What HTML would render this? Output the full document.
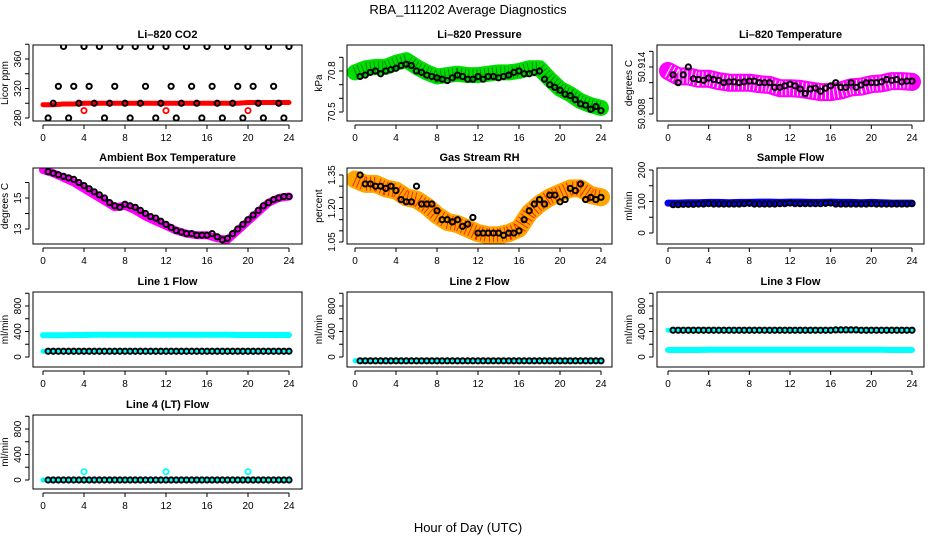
<!DOCTYPE html>
<html><head><meta charset="utf-8"><style>
body{margin:0;background:#fff;}
svg text{font-family:"Liberation Sans",sans-serif;fill:#000;}
</style></head><body>
<svg id="chart" width="936" height="540" viewBox="0 0 936 540" xmlns="http://www.w3.org/2000/svg">
<text x="468" y="14" font-size="13" text-anchor="middle">RBA_111202  Average Diagnostics</text>
<text x="468" y="532" font-size="13" text-anchor="middle">Hour of Day (UTC)</text>
</svg>
<script>
// Hours
const bgHours = [0,1,2,3,4,5,6,7,8,9,10,11,12,13,14,15,16,17,18,19,20,21,22,23,24];
const ptHours = [0.5,1,1.5,2,2.5,3,3.5,4,4.5,5,5.5,6,6.5,7,7.5,8,8.5,9,9.5,10,10.5,11,11.5,12,12.5,13,13.5,14,14.5,15,15.5,16,16.5,17,17.5,18,18.5,19,19.5,20,20.5,21,21.5,22,22.5,23,23.5,24];
const xTicks = [0,4,8,12,16,20,24];

// CO2
const co2Bg = [298,298,299,299,300,300,300,300,300,300,300,300,300,300,300,300,300,300,300,300,301,301,301,301,301];
const co2Pts = [280,300,323,377,280,323,300,377,323,300,377,280,300,323,377,300,280,377,300,323,377,280,300,377,323,280,300,377,323,300,280,377,323,300,280,377,300,323,280,377,323,300,280,377,323,300,280,377];
const co2Red = [290,290,290];
const co2RedHours = [4,12,20];
// Pressure
const presBg = [70.79,70.82,70.83,70.83,70.86,70.88,70.83,70.79,70.76,70.77,70.78,70.77,70.77,70.78,70.79,70.79,70.80,70.82,70.82,70.74,70.67,70.63,70.58,70.55,70.53];
const presPts = [70.76,70.77,70.79,70.80,70.78,70.80,70.81,70.82,70.84,70.85,70.84,70.80,70.79,70.77,70.76,70.75,70.74,70.73,70.75,70.77,70.76,70.74,70.74,70.76,70.74,70.76,70.76,70.75,70.76,70.77,70.79,70.80,70.78,70.78,70.79,70.80,70.74,70.70,70.68,70.66,70.63,70.62,70.59,70.56,70.55,70.52,70.54,70.51];
// Li-820 temperature
const tempBg = [50.9135,50.9128,50.9128,50.9125,50.9125,50.9122,50.9120,50.9120,50.9120,50.9118,50.9117,50.9113,50.9113,50.9112,50.9110,50.9108,50.9108,50.9110,50.9114,50.9115,50.9118,50.9119,50.9122,50.9122,50.9121];
const tempPts = [50.9130,50.9120,50.9130,50.9140,50.9125,50.9124,50.9123,50.9126,50.9124,50.9123,50.9120,50.9121,50.9121,50.9120,50.9121,50.9122,50.9122,50.9120,50.9120,50.9120,50.9114,50.9114,50.9116,50.9118,50.9116,50.9112,50.9106,50.9112,50.9113,50.9109,50.9113,50.9116,50.9120,50.9114,50.9114,50.9120,50.9114,50.9117,50.9120,50.9120,50.9120,50.9121,50.9124,50.9123,50.9124,50.9121,50.9122,50.9122];
// Ambient box temperature
const ambBg = [16.8,16.6,16.3,16.0,15.6,15.2,14.8,14.4,14.5,14.2,13.8,13.5,13.2,12.9,12.7,12.6,12.6,12.4,12.3,12.9,13.5,14.1,14.7,15.0,15.1];
const ambPts = [16.7,16.6,16.5,16.4,16.3,16.2,16.0,15.8,15.6,15.4,15.2,15.0,14.7,14.5,14.4,14.6,14.5,14.4,14.2,14.0,13.8,13.7,13.5,13.3,13.1,12.9,12.8,12.7,12.7,12.6,12.6,12.6,12.7,12.5,12.3,12.4,12.7,13.0,13.3,13.6,13.9,14.2,14.5,14.7,14.9,15.0,15.1,15.1];
// Gas stream RH
const rhBg = [1.33,1.31,1.31,1.29,1.28,1.25,1.24,1.21,1.17,1.14,1.13,1.11,1.09,1.08,1.08,1.09,1.11,1.18,1.22,1.25,1.27,1.29,1.29,1.26,1.25];
const rhPts = [1.35,1.31,1.31,1.30,1.30,1.29,1.30,1.28,1.24,1.23,1.23,1.30,1.22,1.22,1.22,1.19,1.15,1.15,1.14,1.15,1.12,1.13,1.16,1.09,1.09,1.09,1.09,1.09,1.08,1.09,1.09,1.10,1.15,1.19,1.22,1.24,1.22,1.26,1.26,1.23,1.24,1.29,1.28,1.31,1.24,1.25,1.24,1.25];
// Sample flow
const sfBg = [95,95,96,96,97,97,96,97,97,98,98,97,98,98,97,97,98,97,97,96,97,96,95,95,95];
const sfPts = [90,90,91,91,91,92,92,93,92,92,92,92,92,92,93,94,92,92,92,92,92,93,93,95,93,93,93,93,93,93,94,95,92,92,92,92,92,92,92,93,92,92,92,92,92,92,92,93];
// Line flows
const l1Bg = [340,340,340,345,345,350,350,350,350,350,350,350,350,350,350,350,350,350,350,345,345,345,345,345,345];
const l1Low = [90,90,90,90,90,90,90,90,90,90,90,90,90,90,90,90,90,90,90,90,90,90,90,90,90];
const l1Pts = [90,90,90,90,90,90,90,90,90,90,90,90,90,90,90,90,90,90,90,90,90,90,90,90,90,90,90,90,90,90,90,90,90,90,90,90,90,90,90,90,90,90,90,90,90,90,90,90];
const l2Bg = [-60,-60,-60,-60,-60,-60,-60,-60,-60,-60,-60,-60,-60,-60,-60,-60,-60,-60,-60,-60,-60,-60,-60,-60,-60];
const l2Pts = [-60,-60,-60,-60,-60,-60,-60,-60,-60,-60,-60,-60,-60,-60,-60,-60,-60,-60,-60,-60,-60,-60,-60,-60,-60,-60,-60,-60,-60,-60,-60,-60,-60,-60,-60,-60,-60,-60,-60,-60,-60,-60,-60,-60,-60,-60,-60,-60];
const l3Bg = [420,420,420,420,420,420,420,420,420,420,420,420,420,420,420,420,425,430,425,420,420,420,420,420,420];
const l3Low = [110,110,110,110,115,115,115,115,115,115,115,115,115,115,115,115,115,115,115,115,115,115,110,110,110];
const l3Pts = [420,420,420,420,420,420,420,420,420,420,420,420,420,420,420,420,420,420,420,420,420,420,420,420,420,420,420,420,420,420,420,420,425,425,425,425,425,420,420,420,420,420,420,420,420,420,420,420];
const l4Bg = [0,0,0,0,0,0,0,0,0,0,0,0,0,0,0,0,0,0,0,0,0,0,0,0,0];
const l4Pts = [0,0,0,0,0,0,0,0,0,0,0,0,0,0,0,0,0,0,0,0,0,0,0,0,0,0,0,0,0,0,0,0,0,0,0,0,0,0,0,0,0,0,0,0,0,0,0,0];
const l4Out = [130,130,130];
const l4OutHours = [4,12,20];

const flowTicks = [0,200,400,600,800,1000];
const flowLabels = [0,400,800];

const svg = document.getElementById('chart');
const NS = 'http://www.w3.org/2000/svg';
function mk(tag, attrs, parent){
  const e = document.createElementNS(NS, tag);
  for (const k in attrs) e.setAttribute(k, attrs[k]);
  (parent||svg).appendChild(e);
  return e;
}
const cols = [{l:33,r:302,x0:43,x24:289},{l:347,r:612,x0:355,x24:601},{l:657,r:924,x0:668,x24:912}];
const rows = [{t:45,b:121},{t:168,b:244},{t:292,b:367},{t:415,b:489}];

function panel(cfg){
  const c = cols[cfg.col], r = rows[cfg.row];
  const g = mk('g', {});
  
  
  const xs = h => c.x0 + (h/24)*(c.x24-c.x0);
  const ys = v => cfg.yA + (v-cfg.vA)*(cfg.yB-cfg.yA)/(cfg.vB-cfg.vA);
  const clip = 'clip-'+cfg.name;
  const cp = mk('clipPath', {id:clip}, g);
  mk('rect', {x:c.l, y:r.t, width:c.r-c.l, height:r.b-r.t}, cp);
  const plot = mk('g', {'clip-path':'url(#'+clip+')'}, g);
  (cfg.bands||[]).forEach(b=>{
    const pts = bgHours.map((h,i)=>xs(h).toFixed(1)+','+ys(b.vals[i]).toFixed(1)).join(' ');
    const pl = mk('polyline', {points:pts, fill:'none', stroke:b.color, 'stroke-width':b.w, 'stroke-linecap':'round','stroke-linejoin':'round'}, plot);
    
    
    if (b.dash){
      mk('polyline', {points:pts, fill:'none', stroke:b.dash, 'stroke-width':b.w-4, 'stroke-dasharray':'1 3','stroke-linejoin':'round'}, plot);
    }
  });
  (cfg.extra||[]).forEach(ex=>{
    ex.hours.forEach((h,i)=>{
      const ci = mk('circle', {cx:xs(h), cy:ys(ex.vals[i]), r:2.6, fill:'none', stroke:ex.color, 'stroke-width':1.8}, plot);
      
      
    });
  });
  if (cfg.pts){
    cfg.pts.forEach((v,i)=>{
      const ci = mk('circle', {cx:xs(ptHours[i]), cy:ys(v), r:2.6, fill:'none', stroke:'#000', 'stroke-width':2}, plot);
      
      
    });
  }
  mk('rect', {x:c.l, y:r.t, width:c.r-c.l, height:r.b-r.t, fill:'none', stroke:'#000', 'stroke-width':1}, g);
  const t = mk('text', {x:(c.l+c.r)/2, y:r.t-7, 'font-size':11, 'font-weight':'bold', 'text-anchor':'middle'}, g);
  t.textContent = cfg.title;
  
  
  mk('line', {x1:xs(0), x2:xs(24), y1:r.b+4, y2:r.b+4, stroke:'#000'}, g);
  xTicks.forEach(h=>{
    mk('line', {x1:xs(h), x2:xs(h), y1:r.b+4, y2:r.b+8, stroke:'#000'}, g);
    const tx = mk('text', {x:xs(h), y:r.b+20, 'font-size':10, 'text-anchor':'middle'}, g);
    tx.textContent = h;
    
    
  });
  const yt = cfg.ticks;
  mk('line', {x1:c.l-4, x2:c.l-4, y1:ys(yt[0]), y2:ys(yt[yt.length-1]), stroke:'#000'}, g);
  yt.forEach(v=>{ mk('line', {x1:c.l-8, x2:c.l-4, y1:ys(v), y2:ys(v), stroke:'#000'}, g); });
  cfg.labels.forEach(v=>{
    const lx = c.l-12, ly = ys(v);
    const tx = mk('text', {x:lx, y:ly, 'font-size':10, 'text-anchor':'middle', transform:'rotate(-90 '+lx+' '+ly+')'}, g);
    tx.textContent = cfg.fmt ? cfg.fmt(v) : v;
    
    
  });
  const ax = c.l-25, ay = (r.t+r.b)/2;
  const yl = mk('text', {x:ax, y:ay, 'font-size':10, 'text-anchor':'middle', transform:'rotate(-90 '+ax+' '+ay+')'}, g);
  yl.textContent = cfg.ylab;
  
  
}

panel({name:'co2-panel', col:0,row:0,title:'Li\u2013820 CO2',ylab:'Licor ppm',vA:280,yA:118,vB:360,yB:59,
  ticks:[280,300,320,340,360,380],labels:[280,320,360],
  bands:[{vals:co2Bg,color:'#ff0000',w:5,label:'co2-raw-band'}],
  extra:[{hours:co2RedHours,vals:co2Red,color:'#ff0000',label:'co2-red-point'}], pts:co2Pts});
panel({name:'pressure-panel', col:1,row:0,title:'Li\u2013820 Pressure',ylab:'kPa',vA:70.8,yA:71,vB:70.5,yB:112,
  ticks:[70.5,70.6,70.7,70.8,70.9],labels:[70.5,70.8],fmt:v=>v.toFixed(1),
  bands:[{vals:presBg,color:'#00dd00',w:16,label:'pressure-raw-band',dash:'#008800'}], pts:presPts});
panel({name:'li820-temp-panel', col:2,row:0,title:'Li\u2013820 Temperature',ylab:'degrees C',vA:50.914,yA:67,vB:50.908,yB:114,
  ticks:[50.908,50.910,50.912,50.914,50.916],labels:[50.908,50.914],fmt:v=>v.toFixed(3),
  bands:[{vals:tempBg,color:'#ff00ff',w:18,label:'temp-raw-band',dash:'#ffffff'}], pts:tempPts});
panel({name:'ambient-temp-panel', col:0,row:1,title:'Ambient Box Temperature',ylab:'degrees C',vA:15,yA:198,vB:13,yB:229,
  ticks:[13,14,15,16],labels:[13,15],
  bands:[{vals:ambBg,color:'#ff00ff',w:8,label:'ambient-raw-band'}], pts:ambPts});
panel({name:'rh-panel', col:1,row:1,title:'Gas Stream RH',ylab:'percent',vA:1.35,yA:175,vB:1.05,yB:242,
  ticks:[1.05,1.10,1.15,1.20,1.25,1.30,1.35],labels:[1.05,1.20,1.35],fmt:v=>v.toFixed(2),
  bands:[{vals:rhBg,color:'#ffa500',w:18,label:'rh-raw-band',dash:'#ff2200'}], pts:rhPts});
panel({name:'sample-flow-panel', col:2,row:1,title:'Sample Flow',ylab:'ml/min',vA:200,yA:170,vB:0,yB:233,
  ticks:[0,50,100,150,200],labels:[0,100,200],
  bands:[{vals:sfBg,color:'#0000ff',w:7,label:'sample-flow-band'}], pts:sfPts});
panel({name:'line1-flow-panel', col:0,row:2,title:'Line 1 Flow',ylab:'ml/min',vA:0,yA:357,vB:800,yB:306,
  ticks:flowTicks,labels:flowLabels,
  bands:[{vals:l1Bg,color:'#00ffff',w:6,label:'line1-high-band'},{vals:l1Low,color:'#00ffff',w:5,label:'line1-low-band'}], pts:l1Pts});
panel({name:'line2-flow-panel', col:1,row:2,title:'Line 2 Flow',ylab:'ml/min',vA:0,yA:357,vB:800,yB:306,
  ticks:flowTicks,labels:flowLabels,
  bands:[{vals:l2Bg,color:'#00ffff',w:5,label:'line2-band'}], pts:l2Pts});
panel({name:'line3-flow-panel', col:2,row:2,title:'Line 3 Flow',ylab:'ml/min',vA:0,yA:357,vB:800,yB:306,
  ticks:flowTicks,labels:flowLabels,
  bands:[{vals:l3Bg,color:'#00ffff',w:5,label:'line3-high-band'},{vals:l3Low,color:'#00ffff',w:6,label:'line3-low-band'}], pts:l3Pts});
panel({name:'line4-flow-panel', col:0,row:3,title:'Line 4 (LT) Flow',ylab:'ml/min',vA:0,yA:480,vB:800,yB:429,
  ticks:flowTicks,labels:flowLabels,
  bands:[{vals:l4Bg,color:'#00ffff',w:5,label:'line4-band'}],
  extra:[{hours:l4OutHours,vals:l4Out,color:'#00ffff',label:'line4-outlier'}], pts:l4Pts});
</script>
</body></html>
